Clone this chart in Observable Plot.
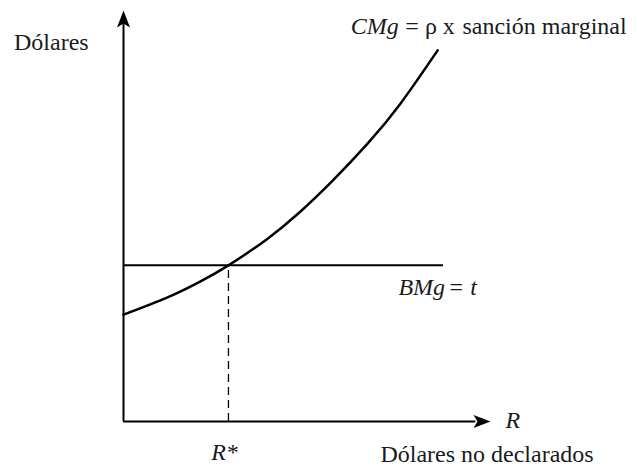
<!DOCTYPE html>
<html>
<head>
<meta charset="utf-8">
<script src="https://cdn.jsdelivr.net/npm/d3@7"></script>
<script src="https://cdn.jsdelivr.net/npm/@observablehq/plot@0.6"></script>
<style>
  html, body { margin: 0; padding: 0; background: white; }
  svg text { font-family: 'Liberation Serif', 'Times New Roman', serif; }
</style>
</head>
<body>
<div id="chart"></div>
<script>
// Values (abstract units: R on x, dollars on y)
const rValues   = [0, 12, 21, 28.6, 39, 48, 57, 66.5, 75.5, 85.6];
const cmgValues = [26, 30.2, 34.1, 38, 44.3, 50.9, 58.6, 67.6, 77.4, 90.3];
const bmgLevel = 38;      // BMg = t
const bmgEnd = 87.2;      // horizontal line ends here
const rStar = 28.6;       // intersection
const axisMax = 100;

const curve = rValues.map((r, i) => ({r, c: cmgValues[i]}));

const arrowHead = {
  draw(ctx) {
    ctx.moveTo(0, 0);
    ctx.lineTo(6.5, 17);
    ctx.lineTo(0, 13);
    ctx.lineTo(-6.5, 17);
    ctx.closePath();
  }
};

const font = "'Liberation Serif', 'Times New Roman', serif";
const ink = "#1a1a1a";
const fs = 24;
const common = {text: d => d, lineAnchor: "bottom", fontSize: fs, fill: ink, fontFamily: font};

const chart = Plot.plot({
  width: 637,
  height: 466,
  marginLeft: 123,
  marginRight: 147,
  marginTop: 10,
  marginBottom: 45,
  x: {domain: [0, axisMax], axis: null},
  y: {domain: [0, axisMax], axis: null},
  style: {background: "white", overflow: "visible", fontFamily: font},
  marks: [
    // axes
    Plot.ruleY([0], {x1: 0, x2: 96, stroke: "black", strokeWidth: 2}),
    Plot.ruleX([0], {y1: 0, y2: 97, stroke: "black", strokeWidth: 2}),
    Plot.dot([{x: axisMax, y: 0}], {x: "x", y: "y", symbol: arrowHead, fill: "black", stroke: "none", rotate: 90}),
    Plot.dot([{x: 0, y: axisMax}], {x: "x", y: "y", symbol: arrowHead, fill: "black", stroke: "none", rotate: 0}),
    // BMg horizontal line
    Plot.ruleY([bmgLevel], {x1: 0, x2: bmgEnd, stroke: "black", strokeWidth: 2}),
    // dashed R*
    Plot.ruleX([rStar], {y1: 0, y2: bmgLevel, stroke: "black", strokeWidth: 1.3, strokeDasharray: "8,5"}),
    // CMg curve
    Plot.line(curve, {x: "r", y: "c", curve: "natural", stroke: "black", strokeWidth: 2.5}),
    // labels
    Plot.text(["Dólares"], {...common, x: -9.5, y: 90.5, textAnchor: "end"}),
    Plot.text(["CMg"], {...common, x: 61.9, y: 94.2, textAnchor: "start", fontStyle: "italic"}),
    Plot.text(["= ρ x"], {...common, x: 76.8, y: 94.2, textAnchor: "start"}),
    Plot.text(["sanción marginal"], {...common, x: 137.1, y: 94.2, textAnchor: "end"}),
    Plot.text(["BMg"], {...common, x: 74.9, y: 30.7, textAnchor: "start", fontStyle: "italic"}),
    Plot.text(["="], {...common, x: 88.8, y: 30.7, textAnchor: "start"}),
    Plot.text(["t"], {...common, x: 94.5, y: 30.7, textAnchor: "start", fontStyle: "italic"}),
    Plot.text(["R"], {...common, x: 104.1, y: -1.5, textAnchor: "start", fontStyle: "italic"}),
    Plot.text(["R*"], {...common, x: rStar, y: -9.3, dx: -4, textAnchor: "middle", fontStyle: "italic"}),
    Plot.text(["Dólares no declarados"], {...common, x: 128.1, y: -9.8, textAnchor: "end"})
  ]
});

document.getElementById("chart").appendChild(chart);
</script>
</body>
</html>
